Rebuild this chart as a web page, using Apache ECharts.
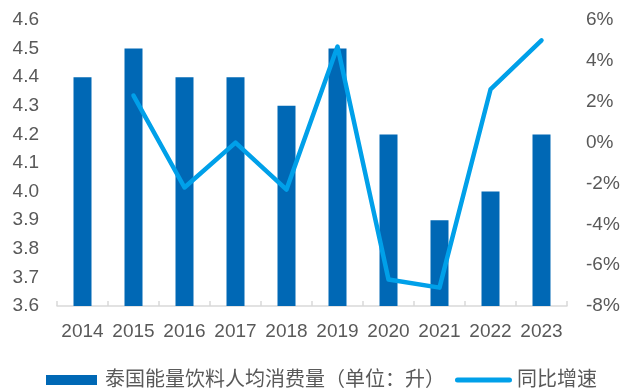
<!DOCTYPE html>
<html>
<head>
<meta charset="utf-8">
<script src="https://cdn.jsdelivr.net/npm/echarts@6/dist/echarts.min.js"></script>
<style>
  html, body { margin: 0; padding: 0; background: #fff; }
  #chart { width: 633px; height: 389px; }
</style>
</head>
<body>
<div id="chart"></div>
<script>
// Per-capita energy drink consumption in Thailand (litres) and year-on-year growth
const years = ['2014', '2015', '2016', '2017', '2018', '2019', '2020', '2021', '2022', '2023'];
const consumption = [4.4, 4.5, 4.4, 4.4, 4.3, 4.5, 4.2, 3.9, 4.0, 4.2];
const growth = [null, 2.3, -2.2, 0.0, -2.3, 4.7, -6.7, -7.1, 2.6, 5.0];
const leftTicks = ['3.6', '3.7', '3.8', '3.9', '4.0', '4.1', '4.2', '4.3', '4.4', '4.5', '4.6'];
const barName = '泰国能量饮料人均消费量（单位：升）';
const lineName = '同比增速';

const textColor = '#595959';
const fontFamily = 'Arial, "Liberation Sans", "Noto Sans CJK SC", sans-serif';
const barColor = '#0068B5';
const lineColor = '#00A0E9';

// legend markers: a flat block for the bars, a thick rounded stroke for the line
const barIcon = 'path://M0,0 L51,0 L51,10 L0,10 Z';
const lineIcon = 'path://M2.5,0 L54.5,0 A2.5,2.5 0 0 1 54.5,5 L2.5,5 A2.5,2.5 0 0 1 2.5,0 Z';

const chart = echarts.init(document.getElementById('chart'), null, { renderer: 'canvas' });
chart.setOption({
  animation: false,
  textStyle: { fontFamily: fontFamily },
  grid: { left: 57, right: 66, top: 20, bottom: 83, containLabel: false },
  legend: {
    top: 365,
    left: 41,
    itemGap: 10,
    symbolKeepAspect: true,
    textStyle: { color: textColor, fontSize: 20, fontFamily: fontFamily },
    data: [
      { name: barName, icon: barIcon, itemStyle: { color: barColor } },
      { name: lineName, icon: lineIcon, itemStyle: { color: lineColor } }
    ],
    itemWidth: 57,
    itemHeight: 10
  },
  xAxis: {
    type: 'category',
    data: years,
    boundaryGap: true,
    axisLine: { onZero: false, lineStyle: { color: '#D9D9D9', width: 1.5 } },
    axisTick: { show: true, inside: true, length: 5, lineStyle: { color: '#D9D9D9', width: 1.5 } },
    axisLabel: { color: textColor, fontSize: 19, margin: 16, interval: 0 }
  },
  yAxis: [
    {
      type: 'value',
      min: 3.6,
      max: 4.6,
      interval: 0.1,
      splitLine: { show: false },
      axisLine: { show: false },
      axisTick: { show: false },
      axisLabel: {
        color: textColor, fontSize: 19, margin: 18,
        formatter: function (v) {
          const i = Math.round((v - 3.6) * 10);
          return leftTicks[i] !== undefined ? leftTicks[i] : '';
        }
      }
    },
    {
      type: 'value',
      min: -8,
      max: 6,
      interval: 2,
      splitLine: { show: false },
      axisLine: { show: false },
      axisTick: { show: false },
      axisLabel: { color: textColor, fontSize: 19, margin: 19, formatter: '{value}%' }
    }
  ],
  series: [
    {
      name: barName,
      type: 'bar',
      data: consumption,
      barWidth: 18,
      itemStyle: { color: barColor }
    },
    {
      name: lineName,
      type: 'line',
      yAxisIndex: 1,
      data: growth,
      symbol: 'none',
      lineStyle: { color: lineColor, width: 4.5, cap: 'round', join: 'round' },
      itemStyle: { color: lineColor }
    }
  ]
});
</script>
</body>
</html>
